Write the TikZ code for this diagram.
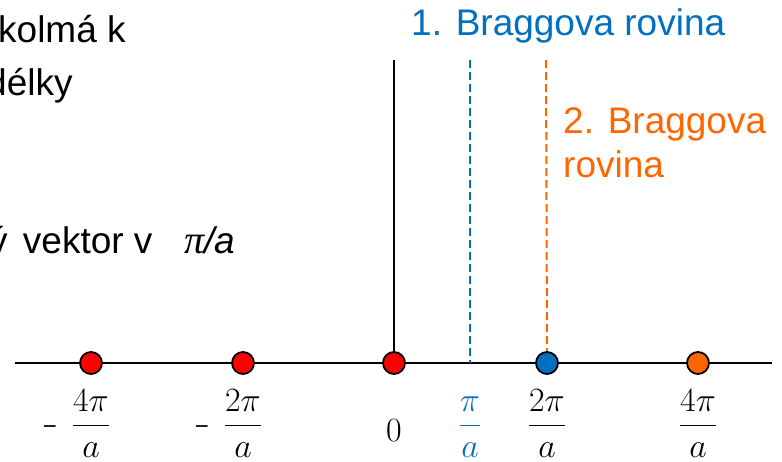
\RequirePackage{fix-cm}
\documentclass[tikz,border=0pt]{standalone}
\usepackage{fontspec}
\setmainfont{Liberation Sans}
\newfontfamily\serifpi{Liberation Serif}
\definecolor{bblue}{RGB}{0,112,192}
\definecolor{borange}{RGB}{255,102,0}
\definecolor{bred}{RGB}{255,0,0}
\newcommand{\negsign}{\llap{\fontsize{24}{24}\selectfont −\hspace{15pt}}}
\begin{document}
\begin{tikzpicture}[x=1pt,y=-1pt,
  big/.style={font=\fontsize{37}{44}\selectfont, inner sep=0pt, anchor=base west},
  dot/.style={circle, draw=black, line width=1.8pt, minimum size=22pt, inner sep=0pt},
  fraclab/.style={font=\fontsize{34}{36}\selectfont, inner sep=0pt, anchor=base},
  axisline/.style={line width=2.5pt, black},
  bragg/.style={line width=2pt, dash pattern=on 8pt off 4pt}]
\useasboundingbox (0,0) rectangle (782,461);
\clip (0,0) rectangle (782,461);

% left text (cut at the left edge, as in the reference)
\node[big] (t1) at (-2,42) {kolmá k};
\node[big] (t2) at (-14,95) {délky};
\node[big] (t3) at (-11,253) {ý\hspace{5pt} vektor v};
\node[big] (t4) at (184,253) {{\serifpi\itshape\fontsize{40}{44}\selectfont π}{\itshape /a}};

% Bragg plane labels
\node[big, text=bblue] (b1) at (411,35) {1. Braggova rovina};
\node[big, text=borange, align=left] (b2) at (563,177) {2. Braggova\\rovina};

% coordinates
\coordinate (axL) at (15,363);
\coordinate (axR) at (772,363);
\coordinate (vtop) at (394,60);
\coordinate (vbot) at (394,363);
\coordinate (btop) at (470,60);
\coordinate (bbot) at (470,363);
\coordinate (otop) at (546,60);

% axis and lines
\draw[axisline] (axL) -- (axR);
\draw[line width=2pt] (vtop) -- (vbot);
\draw[bragg, bblue] (btop) -- (bbot);

% dots
\node[dot, fill=bred] (m4) at (91,363) {};
\node[dot, fill=bred] (m2) at (243,363) {};
\node[dot, fill=bred] (z) at (394,363) {};
\node[dot, fill=bblue] (p2) at (547,363) {};
\node[dot, fill=borange] (p4) at (698,363) {};
\draw[bragg, borange] (otop) -- (p2.north);

% axis labels
\node[fraclab] (lm4) at (91,434) {$\negsign\displaystyle\frac{4\pi}{a}$};
\node[fraclab] (lm2) at (243,434) {$\negsign\displaystyle\frac{2\pi}{a}$};
\node[fraclab] (l0) at (394,441) {$0$};
\node[fraclab, text=bblue] (lp1) at (470,434) {$\displaystyle\frac{\pi}{a}$};
\node[fraclab] (lp2) at (547,434) {$\displaystyle\frac{2\pi}{a}$};
\node[fraclab] (lp4) at (698,434) {$\displaystyle\frac{4\pi}{a}$};
\end{tikzpicture}
\end{document}
